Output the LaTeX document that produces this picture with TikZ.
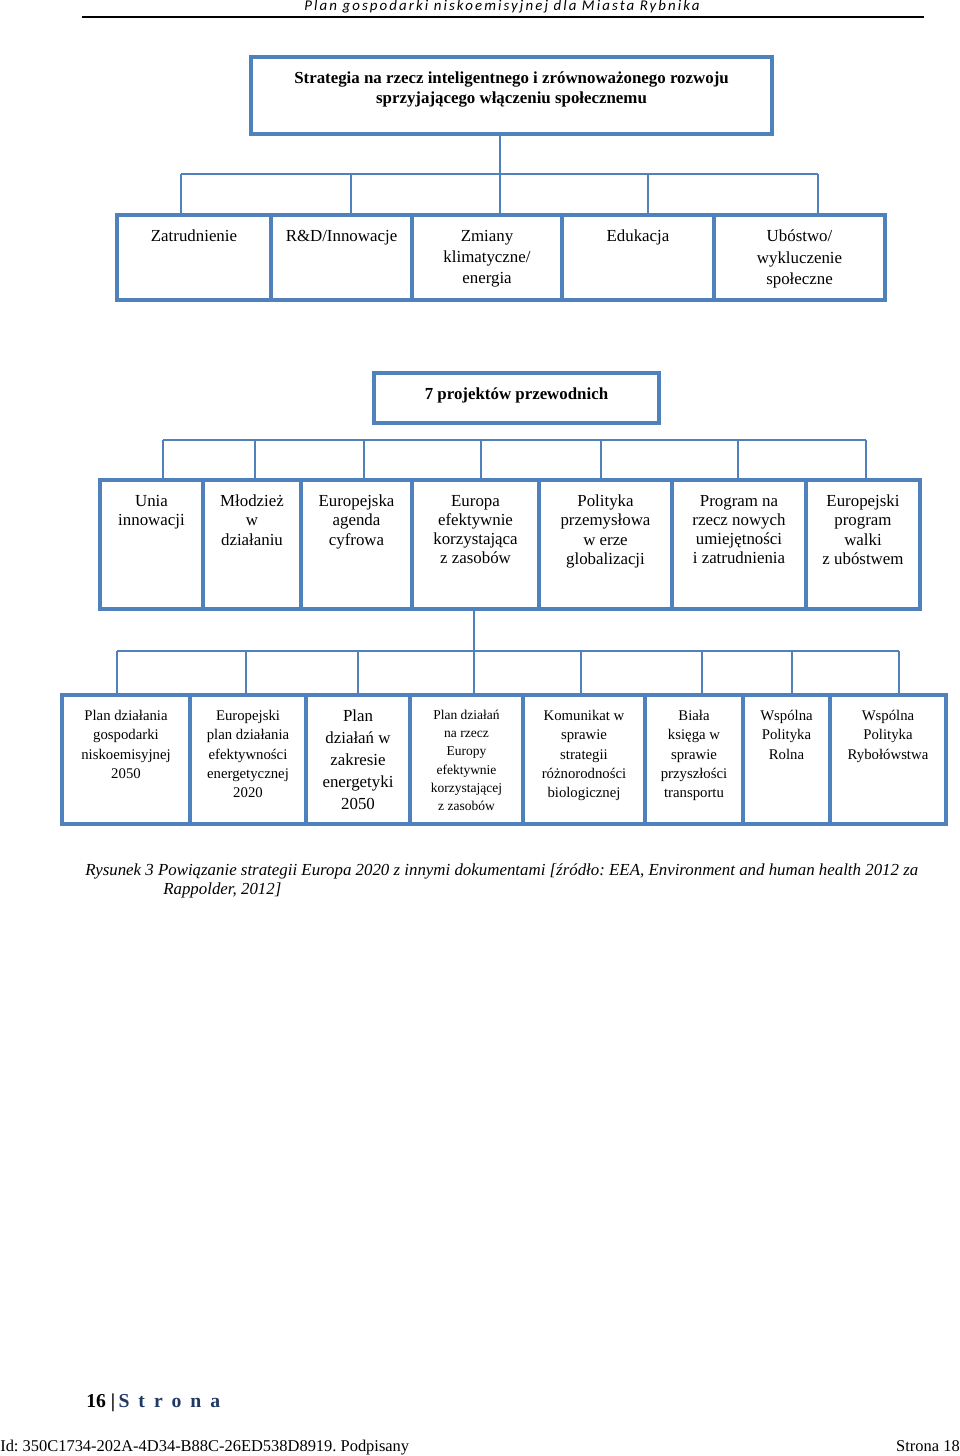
\documentclass[tikz,border=0pt]{standalone}
\usepackage{fontspec}
\setmainfont{Liberation Serif}
\newfontfamily\headfont[LetterSpace=14]{Carlito}
\usetikzlibrary{positioning}
\definecolor{boxblue}{RGB}{79,129,189}
\definecolor{navy}{RGB}{31,56,100}
\newdimen\px \px=0.25mm
\frenchspacing

\begin{document}
\begin{tikzpicture}[x = 0.25mm, y = -0.25mm,
  box/.style = {draw = boxblue, line width = 2.4pt, inner sep = 0pt},
  link/.style = {boxblue, line width = .9pt},
  txt/.style = {anchor = north, yshift = -4.1mm, align = center, inner sep = 0pt,
                font = \fontsize{12}{15.2}\selectfont},
  proj/.style = {txt, font = \fontsize{12}{13.7}\selectfont},
  doc/.style = {txt, font = \fontsize{10.5}{13.8}\selectfont},
  capline/.style = {anchor = base west, inner sep = 0pt, font = \itshape\fontsize{12}{14}\selectfont}]
\useasboundingbox (0,0) rectangle (960,1456);

% page header
\node[font = \headfont\itshape\fontsize{10.6}{12}\selectfont] (head) at (502,6.5) {Plan gospodarki niskoemisyjnej dla Miasta Rybnika};
\coordinate (rulew) at (82,17);
\coordinate (rulee) at (924,17);
\draw[line width = 1.8pt] (rulew) -- (rulee);

% strategy
\node[box, minimum width = 521\px, minimum height = 77\px,
  label = {[txt, font = \bfseries\fontsize{12}{14.2}\selectfont]north:{Strategia na rzecz inteligentnego i zrównoważonego rozwoju\\sprzyjającego włączeniu społecznemu}}] (strat) at (511.5,95.5) {};

% priorities
\node[box, minimum width = 154\px, minimum height = 85\px, label = {[txt]north:Zatrudnienie}] (zat) at (194,257.5) {};
\node[box, minimum width = 141\px, minimum height = 85\px, label = {[txt]north:R\&D/Innowacje}] (rd) at (341.5,257.5) {};
\node[box, minimum width = 150\px, minimum height = 85\px, label = {[txt]north:{Zmiany\\klimatyczne/\\energia}}] (klim) at (487,257.5) {};
\node[box, minimum width = 152\px, minimum height = 85\px, label = {[txt]north:Edukacja}] (edu) at (638,257.5) {};
\node[box, minimum width = 171\px, minimum height = 85\px, label = {[txt]north:{Ubóstwo/\\wykluczenie\\społeczne}}] (ubo) at (799.5,257.5) {};

\coordinate (hub1) at (500,174);
\coordinate (bus1w) at (181,174);
\coordinate (bus1e) at (818,174);
\draw[link] (hub1 |- strat.south) -- (hub1);
\draw[link] (bus1w) -- (bus1e);
\foreach \x/\n in {181/zat, 351/rd, 500/klim, 648/edu, 818/ubo}
  \draw[link] (\x,174) -- (\n.north -| \x,0);

% flagships
\node[box, minimum width = 285\px, minimum height = 50\px,
  label = {[txt, font = \bfseries\fontsize{12}{14}\selectfont]north:7 projektów przewodnich}] (flag) at (516.5,398) {};

\node[box, minimum width = 103\px, minimum height = 129\px, label = {[proj]north:{Unia\\innowacji}}] (unia) at (151.5,544.5) {};
\node[box, minimum width = 98\px, minimum height = 129\px, label = {[proj]north:{Młodzież\\w\\działaniu}}] (mlod) at (252,544.5) {};
\node[box, minimum width = 111\px, minimum height = 129\px, label = {[proj]north:{Europejska\\agenda\\cyfrowa}}] (cyfr) at (356.5,544.5) {};
\node[box, minimum width = 127\px, minimum height = 129\px, label = {[proj]north:{Europa\\efektywnie\\korzystająca\\z zasobów}}] (zas) at (475.5,544.5) {};
\node[box, minimum width = 133\px, minimum height = 129\px, label = {[proj]north:{Polityka\\przemysłowa\\w erze\\globalizacji}}] (przem) at (605.5,544.5) {};
\node[box, minimum width = 134\px, minimum height = 129\px, label = {[proj]north:{Program na\\rzecz nowych\\umiejętności\\i zatrudnienia}}] (umie) at (739,544.5) {};
\node[box, minimum width = 114\px, minimum height = 129\px, label = {[proj]north:{Europejski\\program\\walki\\z ubóstwem}}] (walk) at (863,544.5) {};

\coordinate (bus2w) at (163,440);
\coordinate (bus2e) at (866,440);
\draw[link] (bus2w) -- (bus2e);
\foreach \x/\n in {163/unia, 255/mlod, 364/cyfr, 481/zas, 601/przem, 738/umie, 866/walk}
  \draw[link] (\x,440) -- (\n.north -| \x,0);

% documents
\coordinate (hub2) at (474,651);
\coordinate (bus3w) at (117,651);
\coordinate (bus3e) at (899,651);
\draw[link] (hub2 |- zas.south) -- (hub2);
\draw[link] (bus3w) -- (bus3e);

\node[box, minimum width = 128\px, minimum height = 129\px, label = {[doc]north:{Plan działania\\gospodarki\\niskoemisyjnej\\2050}}] (nisk) at (126,759.5) {};
\node[box, minimum width = 116\px, minimum height = 129\px, label = {[doc]north:{Europejski\\plan działania\\efektywności\\energetycznej\\2020}}] (efen) at (248,759.5) {};
\node[box, minimum width = 104\px, minimum height = 129\px, label = {[txt, font = \fontsize{12}{15.6}\selectfont]north:{Plan\\działań w\\zakresie\\energetyki\\2050}}] (ener) at (358,759.5) {};
\node[box, minimum width = 113\px, minimum height = 129\px, label = {[txt, font = \fontsize{9.6}{13}\selectfont]north:{Plan działań\\na rzecz\\Europy\\efektywnie\\korzystającej\\z zasobów}}] (eur) at (466.5,759.5) {};
\node[box, minimum width = 122\px, minimum height = 129\px, label = {[doc]north:{Komunikat w\\sprawie\\strategii\\różnorodności\\biologicznej}}] (bio) at (584,759.5) {};
\node[box, minimum width = 98\px, minimum height = 129\px, label = {[doc]north:{Biała\\księga w\\sprawie\\przyszłości\\transportu}}] (trans) at (694,759.5) {};
\node[box, minimum width = 87\px, minimum height = 129\px, label = {[doc]north:{Wspólna\\Polityka\\Rolna}}] (roln) at (786.5,759.5) {};
\node[box, minimum width = 116\px, minimum height = 129\px, label = {[doc]north:{Wspólna\\Polityka\\Rybołówstwa}}] (ryb) at (888,759.5) {};

\foreach \x/\n in {117/nisk, 246/efen, 358/ener, 474/eur, 581/bio, 702/trans, 792/roln, 899/ryb}
  \draw[link] (\x,651) -- (\n.north -| \x,0);

% caption
\node[capline] (cap1) at (85,875) {Rysunek 3 Powiązanie strategii Europa 2020 z innymi dokumentami [źródło: EEA, Environment and human health 2012 za};
\node[capline] (cap2) at (163,894) {Rappolder, 2012]};

% page footer
\node[anchor = base west, inner sep = 0pt, font = \bfseries\fontsize{14}{16}\selectfont] (pnum) at (86,1407)
  {16 |\,{\color{navy}\addfontfeature{LetterSpace=46}Strona}};
\node[anchor = base west, inner sep = 0pt, font = \fontsize{11.7}{14}\selectfont] (ident) at (0,1451) {Id: 350C1734-202A-4D34-B88C-26ED538D8919. Podpisany};
\node[anchor = base east, inner sep = 0pt, font = \fontsize{11.7}{14}\selectfont] (pg) at (960,1451) {Strona 18};
\end{tikzpicture}
\end{document}
